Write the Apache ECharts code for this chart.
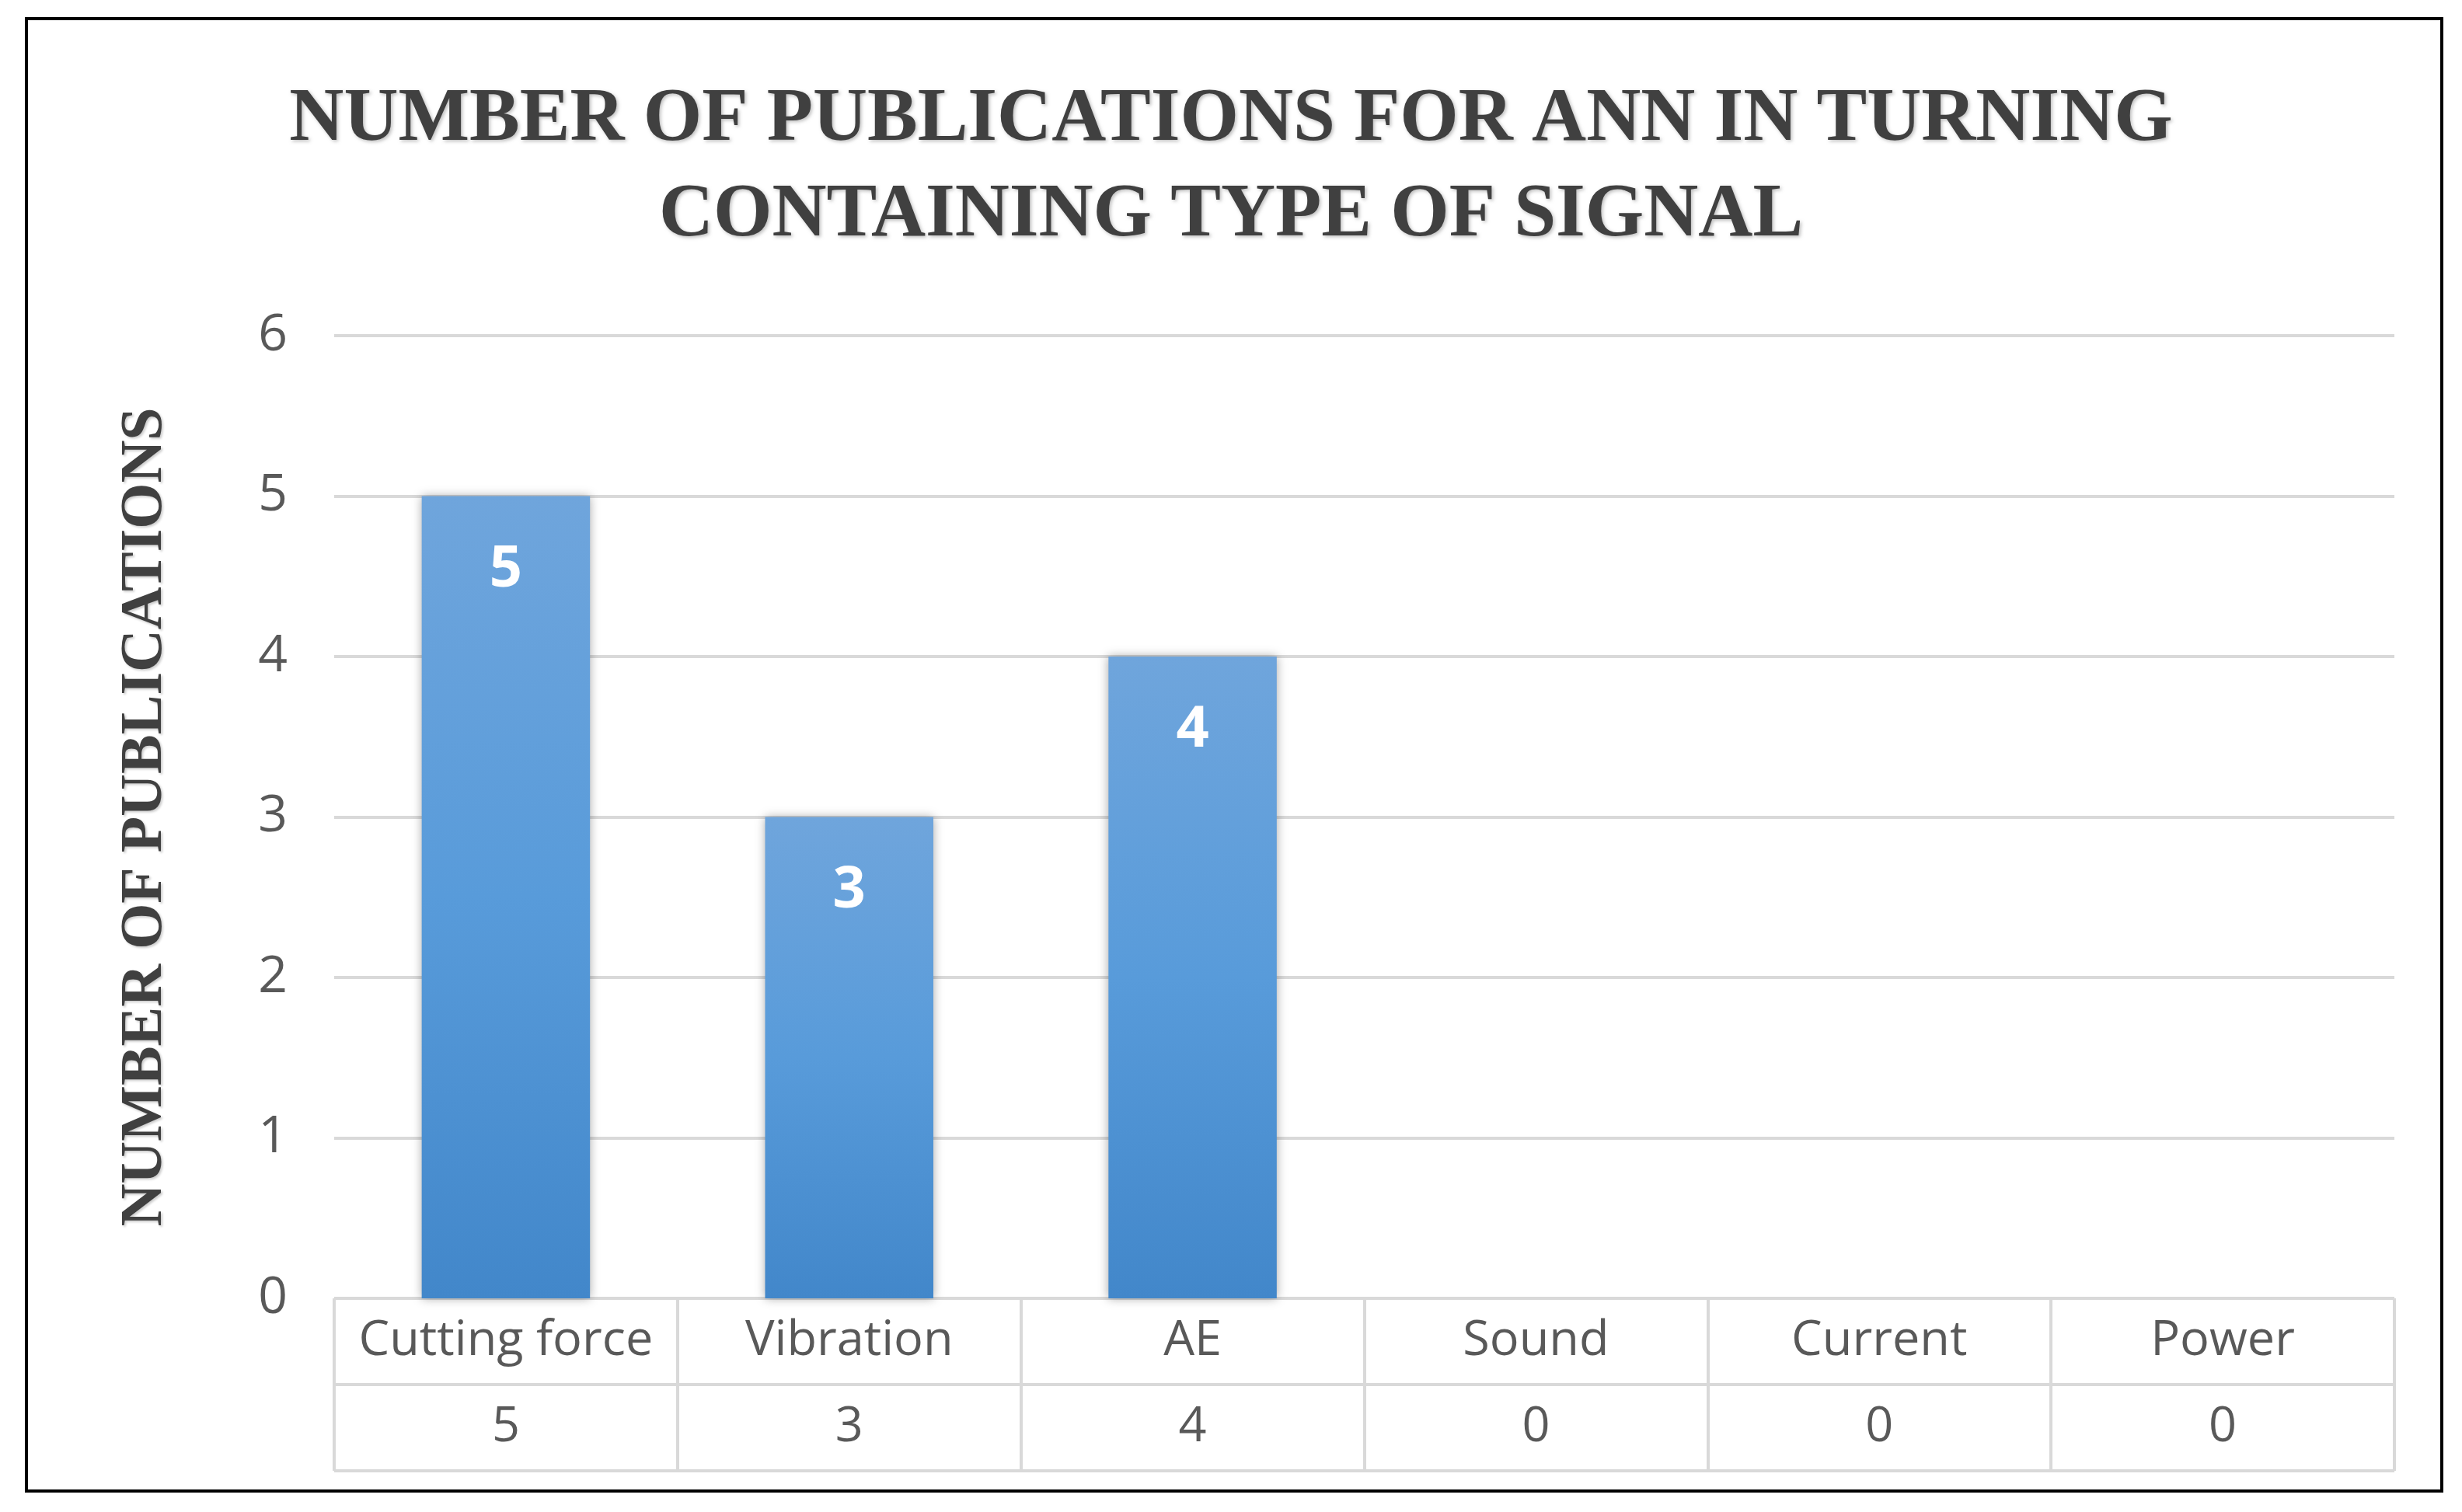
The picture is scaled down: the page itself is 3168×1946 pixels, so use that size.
<!DOCTYPE html>
<html>
<head>
<meta charset="utf-8">
<style>
  html, body { margin: 0; padding: 0; background: #ffffff; }
  #chart { width: 3168px; height: 1946px; }
</style>
<script src="https://cdn.jsdelivr.net/npm/echarts@6/dist/echarts.min.js"></script>
</head>
<body>
<div id="chart"></div>
<script>
// ---- data ----
const titleLines = ['NUMBER OF PUBLICATIONS FOR ANN IN TURNING', 'CONTAINING TYPE OF SIGNAL'];
const yAxisTitle = 'NUMBER OF PUBLICATIONS';
const categories = ['Cutting force', 'Vibration', 'AE', 'Sound', 'Current', 'Power'];
const publications = [5, 3, 4, 0, 0, 0];
const yTicks = [0, 1, 2, 3, 4, 5, 6];

const chart = echarts.init(document.getElementById('chart'), null, { renderer: 'canvas' });

const gridColor = '#d9d9d9';
const sansFont = '"Open Sans", "Noto Sans", sans-serif';
const serifFont = '"Liberation Serif", "DejaVu Serif", serif';

const option = {
  backgroundColor: '#ffffff',
  animation: false,
  title: {
    text: titleLines.join('\n'),
    left: 'center',
    top: 88,
    textStyle: {
      fontFamily: serifFont,
      fontWeight: 'bold',
      fontSize: 97,
      lineHeight: 123,
      color: '#404040',
      textShadowColor: 'rgba(0,0,0,0.25)',
      textShadowBlur: 4,
      textShadowOffsetX: 2,
      textShadowOffsetY: 2
    }
  },
  graphic: [{
    type: 'rect',
    shape: { x: 34, y: 24, width: 3108, height: 1895 },
    style: { fill: 'none', stroke: '#000000', lineWidth: 4 },
    silent: true,
    z: 100
  }],
  grid: [
    { left: 430, right: 87, top: 432, bottom: 275, outerBoundsMode: 'none' },
    { left: 430, right: 87, top: 1671, height: 222, outerBoundsMode: 'none' }
  ],
  xAxis: [
    {
      type: 'category',
      gridIndex: 0,
      data: categories,
      axisLine: { show: false },
      axisTick: { show: false },
      axisLabel: { show: false },
      splitLine: { show: false }
    },
    {
      type: 'category',
      gridIndex: 1,
      position: 'top',
      data: categories,
      axisLine: { show: false },
      axisTick: { show: false },
      axisLabel: {
        inside: true,
        margin: 55,
        verticalAlign: 'middle',
        interval: 0,
        fontFamily: sansFont,
        fontSize: 63,
        color: '#595959'
      },
      splitLine: { show: true, interval: 0, lineStyle: { color: gridColor, width: 4 } }
    },
    {
      type: 'category',
      gridIndex: 1,
      position: 'bottom',
      data: categories,
      axisLine: { show: false },
      axisTick: { show: false },
      axisLabel: {
        inside: true,
        margin: 56,
        verticalAlign: 'middle',
        interval: 0,
        fontFamily: sansFont,
        fontSize: 63,
        color: '#595959',
        formatter: function (v, i) { return String(publications[i]); }
      },
      splitLine: { show: false }
    }
  ],
  yAxis: [
    {
      type: 'value',
      gridIndex: 0,
      min: yTicks[0],
      max: yTicks[yTicks.length - 1],
      interval: 1,
      name: yAxisTitle,
      nameLocation: 'middle',
      nameGap: 205,
      nameRotate: 90,
      nameTextStyle: {
        fontFamily: serifFont,
        fontWeight: 'bold',
        fontSize: 76,
        color: '#404040',
        textShadowColor: 'rgba(0,0,0,0.2)',
        textShadowBlur: 3,
        textShadowOffsetX: 2,
        textShadowOffsetY: 2
      },
      axisLine: { show: false },
      axisTick: { show: false },
      axisLabel: {
        margin: 60,
        fontFamily: sansFont,
        fontSize: 66,
        color: '#595959'
      },
      splitLine: { show: true, lineStyle: { color: gridColor, width: 4 } }
    },
    {
      type: 'value',
      gridIndex: 1,
      min: 0,
      max: 2,
      interval: 1,
      axisLine: { show: false },
      axisTick: { show: false },
      axisLabel: { show: false },
      splitLine: { show: true, lineStyle: { color: gridColor, width: 4 } }
    }
  ],
  series: [{
    type: 'bar',
    xAxisIndex: 0,
    yAxisIndex: 0,
    data: publications,
    barWidth: '49%',
    itemStyle: {
      color: new echarts.graphic.LinearGradient(0, 0, 0, 1, [
        { offset: 0, color: '#6fa5dc' },
        { offset: 0.5, color: '#589bda' },
        { offset: 1, color: '#4287ca' }
      ]),
      shadowColor: 'rgba(0,0,0,0.35)',
      shadowBlur: 12,
      shadowOffsetX: 0,
      shadowOffsetY: 0
    },
    label: {
      show: true,
      position: 'insideTop',
      distance: 58,
      fontFamily: sansFont,
      fontWeight: 'bold',
      fontSize: 74,
      color: '#ffffff',
      formatter: function (p) { return p.value > 0 ? String(p.value) : ''; }
    }
  }]
};

chart.setOption(option);
</script>
</body>
</html>
